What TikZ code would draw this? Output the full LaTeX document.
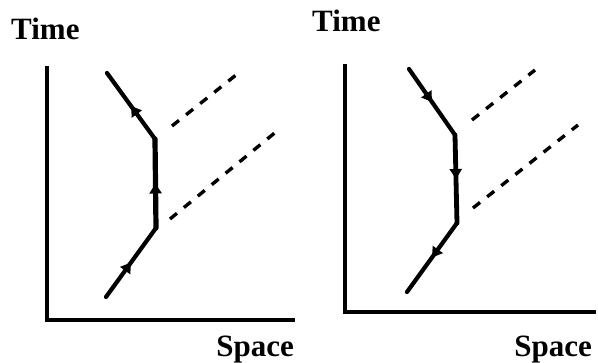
\documentclass[tikz,border=0pt]{standalone}
\usepackage{fontspec}
\setmainfont{Liberation Serif}
\usetikzlibrary{decorations.markings,arrows.meta}
\begin{document}
\begin{tikzpicture}[x=1pt,y=-1pt,
  axis/.style={line width=3.4pt,line cap=rect},
  world/.style={line width=4.2pt,line join=round,line cap=round},
  photon/.style={line width=3.4pt,dash pattern=on 9pt off 9pt},
  lab/.style={font=\bfseries\fontsize{31}{32}\selectfont,inner sep=0pt},
  upmark/.style={postaction={decorate},decoration={markings,mark=at position #1 with {\arrow{Triangle[width=12pt,length=10pt]}}}},
  downmark/.style={postaction={decorate},decoration={markings,mark=at position #1 with {\arrowreversed{Triangle[width=12pt,length=10pt]}}}}
]
\useasboundingbox (0,0) rectangle (598,363);
% ---------- left diagram ----------
\node[lab,anchor=base west] (t1) at (11,40) {Time};
\node[lab,anchor=base east] (s1) at (294,357) {Space};
\coordinate (o1) at (47,320);
\coordinate (y1) at (47,68);
\coordinate (x1) at (293,320);
\draw[axis] (y1) -- (o1) -- (x1);
\coordinate (a1) at (106,297);
\coordinate (b1) at (156,228);
\coordinate (c1) at (155,139);
\coordinate (d1) at (107,73);
\draw[world,upmark=0.5] (a1) -- (b1);
\draw[world,line width=5.2pt,upmark=0.5] (b1) -- (c1);
\draw[world,upmark=0.5] (c1) -- (d1);
\coordinate (p1a) at (170,219);
\coordinate (p1b) at (277,131);
\coordinate (q1a) at (172,126);
\coordinate (q1b) at (236,75);
\draw[photon] (p1a) -- (p1b);
\draw[photon] (q1a) -- (q1b);
% ---------- right diagram ----------
\node[lab,anchor=base west] (t2) at (312,32) {Time};
\node[lab,anchor=base east] (s2) at (592,357) {Space};
\coordinate (o2) at (345,312);
\coordinate (y2) at (345,66);
\coordinate (x2) at (594,312);
\draw[axis] (y2) -- (o2) -- (x2);
\coordinate (a2) at (407,292);
\coordinate (b2) at (457,223);
\coordinate (c2) at (455,135);
\coordinate (d2) at (409,69);
\draw[world,downmark=0.5] (a2) -- (b2);
\draw[world,line width=4.8pt,downmark=0.5] (b2) -- (c2);
\draw[world,downmark=0.5] (c2) -- (d2);
\coordinate (p2a) at (473,208);
\coordinate (p2b) at (578,125);
\coordinate (q2a) at (472,120);
\coordinate (q2b) at (535,70);
\draw[photon] (p2a) -- (p2b);
\draw[photon] (q2a) -- (q2b);
\end{tikzpicture}
\end{document}
